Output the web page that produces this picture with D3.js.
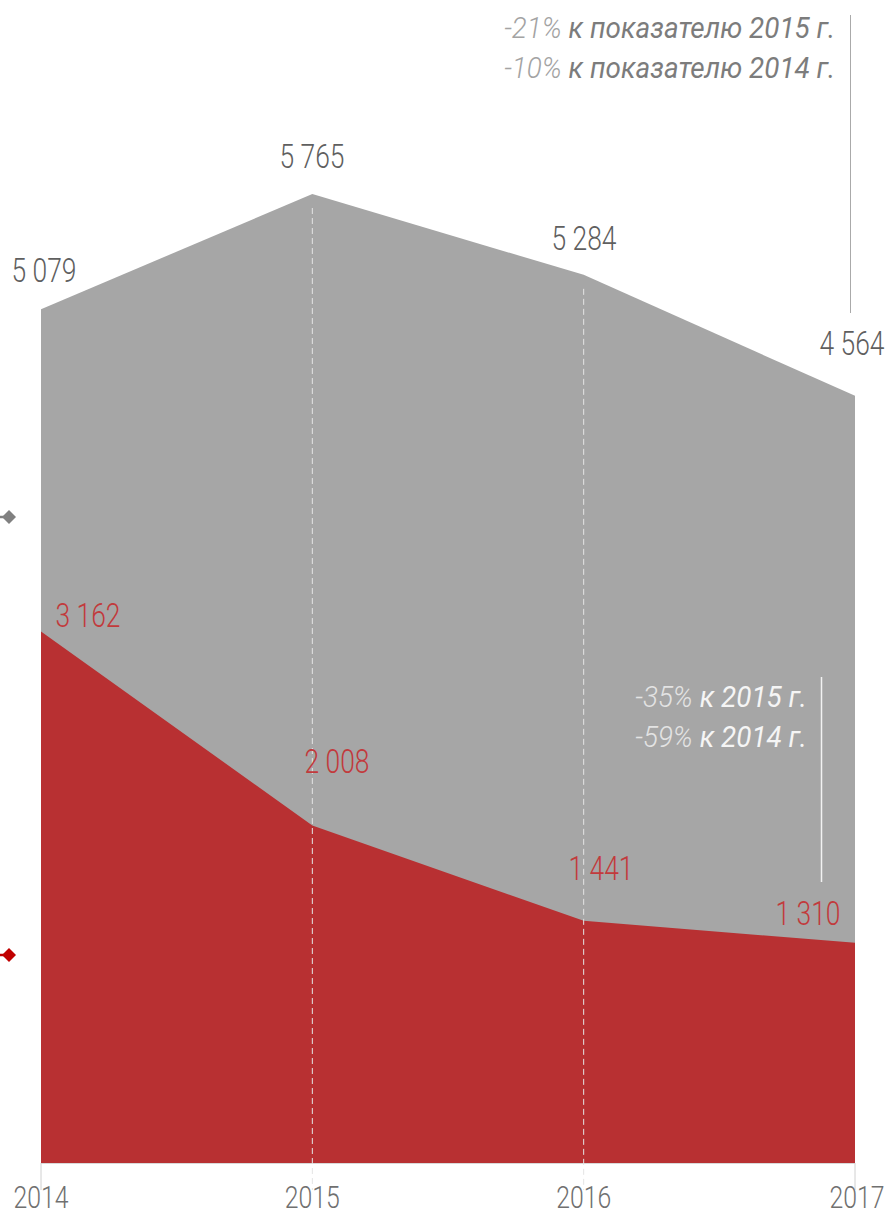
<!DOCTYPE html>
<html lang="ru">
<head>
  <meta charset="UTF-8">
  <title>Chart</title>
  <script src="https://cdn.jsdelivr.net/npm/d3@7"></script>
  <style>
    body { margin: 0; background: #fff; }
    text { font-family: Roboto, "Liberation Sans", sans-serif; font-weight: 300; }
  </style>
</head>
<body>
  <div id="chart"></div>
  <script>
    // data
    const years = ["2014", "2015", "2016", "2017"];
    const totalValues = [5079, 5765, 5284, 4564];
    const redValues = [3162, 2008, 1441, 1310];
    const totalLabels = ["5 079", "5 765", "5 284", "4 564"];
    const redLabels = ["3 162", "2 008", "1 441", "1 310"];
    const topNote = [["-21%", " к показателю 2015 г."], ["-10%", " к показателю 2014 г."]];
    const redNote = [["-35%", " к 2015 г."], ["-59%", " к 2014 г."]];

    const W = 888, H = 1216;
    const svg = d3.select("#chart").append("svg")
      .attr("width", W).attr("height", H);

    const x = d3.scalePoint().domain(years).range([41, 855]);
    const y = d3.scaleLinear().domain([0, 5765]).range([1163, 194]);

    const rows = years.map((yr, i) => ({ yr, total: totalValues[i], red: redValues[i] }));

    // gray area
    svg.append("path")
      .datum(rows)
      .attr("fill", "#a6a6a6")
      .attr("d", d3.area().x(d => x(d.yr)).y0(y(0)).y1(d => y(d.total)));

    // red area
    svg.append("path")
      .datum(rows)
      .attr("fill", "#b83032")
      .attr("d", d3.area().x(d => x(d.yr)).y0(y(0)).y1(d => y(d.red)));

    // axis baseline and ticks
    svg.append("line")
      .attr("x1", x(years[0])).attr("x2", x(years[3]))
      .attr("y1", y(0) + 0.5).attr("y2", y(0) + 0.5)
      .attr("stroke", "#d9d9d9").attr("stroke-width", 1);

    rows.forEach((d, i) => {
      const inner = i > 0 && i < years.length - 1;
      svg.append("line")
        .attr("x1", x(d.yr)).attr("x2", x(d.yr))
        .attr("y1", inner ? y(d.total) + 14 : y(0))
        .attr("y2", y(0) + 27)
        .attr("stroke", inner ? "#e4e4e4" : "#d0d0d0")
        .attr("stroke-width", 1)
        .attr("stroke-dasharray", inner ? "6,4" : null);
    });

    // condensed-looking text helper
    function label(txt, px, py, anchor, size, fill, sx = 0.8) {
      return svg.append("text")
        .attr("transform", `translate(${px},${py}) scale(${sx},1)`)
        .attr("text-anchor", anchor)
        .attr("font-size", size)
        .attr("fill", fill)
        .text(txt);
    }

    // year labels
    years.forEach(yr => {
      label(yr, x(yr) + (yr === "2017" ? 2 : 0), 1208, "middle", 31, "#707070");
    });

    // total labels
    const totPos = [[44, 282], [312, 168], [584, 250], [852, 355]];
    totalLabels.forEach((t, i) => {
      label(t, totPos[i][0], totPos[i][1], "middle", 33, "#5f5f5f");
    });

    // red labels
    const redPos = [[88, 627], [337, 773], [601, 880], [808, 925]];
    redLabels.forEach((t, i) => {
      label(t, redPos[i][0], redPos[i][1], "middle", 33, "#c23a3c");
    });

    // top annotation
    svg.append("line")
      .attr("x1", 850.5).attr("x2", 850.5).attr("y1", 15).attr("y2", 313)
      .attr("stroke", "#aaaaaa").attr("stroke-width", 1);
    topNote.forEach((n, i) => {
      const t = svg.append("text")
        .attr("transform", `translate(835,${38 + i * 40}) scale(0.96,1)`)
        .attr("text-anchor", "end")
        .attr("font-size", 29)
        .attr("font-style", "italic");
      t.append("tspan").attr("fill", "#a3a3a3").attr("font-weight", 300).text(n[0]);
      t.append("tspan").attr("fill", "#7c7c7c").attr("font-weight", 400).text(n[1]);
    });

    // red annotation
    svg.append("line")
      .attr("x1", 821.5).attr("x2", 821.5).attr("y1", 677).attr("y2", 882)
      .attr("stroke", "#f2f2f2").attr("stroke-width", 1.5);
    redNote.forEach((n, i) => {
      const t = svg.append("text")
        .attr("transform", `translate(807,${707 + i * 40}) scale(0.96,1)`)
        .attr("text-anchor", "end")
        .attr("font-size", 29)
        .attr("font-style", "italic");
      t.append("tspan").attr("fill", "#e3e3e3").attr("font-weight", 300).text(n[0]);
      t.append("tspan").attr("fill", "#f5f5f5").attr("font-weight", 400).text(n[1]);
    });

    // legend markers at left edge
    const markers = [[517, "#808080"], [955, "#c00000"]];
    markers.forEach(([my, col]) => {
      svg.append("line").attr("x1", 0).attr("x2", 8).attr("y1", my).attr("y2", my)
        .attr("stroke", col).attr("stroke-width", 2.5);
      svg.append("path")
        .attr("transform", `translate(9,${my})`)
        .attr("d", "M0,-7L7,0L0,7L-7,0Z")
        .attr("fill", col);
    });
  </script>
</body>
</html>
